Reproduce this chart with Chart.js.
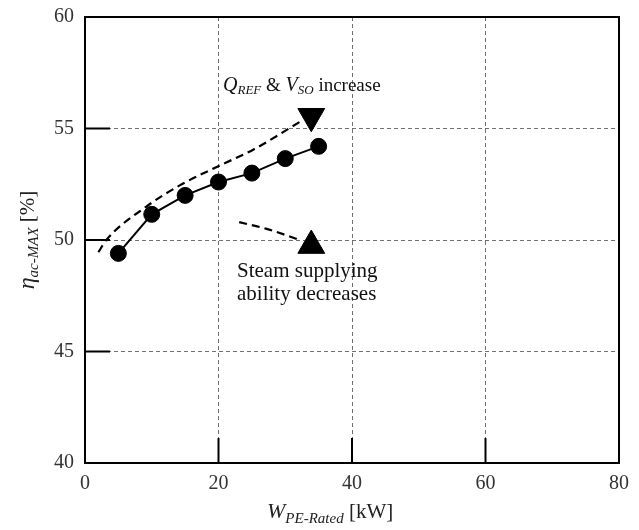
<!DOCTYPE html>
<html lang="en">
  <head>
    <meta charset="UTF-8" />
    <title>eta ac-MAX vs W PE-Rated</title>
    <script src="https://cdn.jsdelivr.net/npm/chart.js"></script>
    <style>
      html, body { margin: 0; padding: 0; background: #fff; }
      #wrap { width: 639px; height: 530px; position: relative; }
    </style>
  </head>
  <body>
    <div id="wrap"><canvas id="graph"></canvas></div>

    <script>
      // values
      const ratedPower = [5, 10, 15, 20, 25, 30, 35];
      const etaMax = [49.4, 51.15, 52.0, 52.6, 53.0, 53.65, 54.2];

      const increaseX = [2.0, 3.2, 9.2, 14.2, 19.9, 25.2, 32.2];
      const increaseY = [49.45, 50.0, 51.5, 52.45, 53.3, 54.05, 55.3];
      const decreaseX = [23.1, 27.2, 32.2];
      const decreaseY = [50.8, 50.5, 50.0];

      const arrowUp = [{ x: 33.9, y: 55.55 }];
      const arrowDown = [{ x: 33.9, y: 49.75 }];

      const xTicks = [0, 20, 40, 60, 80];
      const yTicks = [40, 45, 50, 55, 60];

      const pairs = (xs, ys) => xs.map((x, i) => ({ x, y: ys[i] }));
      const SERIF = "'Liberation Serif', 'Times New Roman', serif";

      // draw a run of text pieces (for subscripts)
      function drawRich(ctx, parts, x, y) {
        let cx = x;
        parts.forEach((p) => {
          ctx.font = p.font;
          ctx.fillText(p.text, cx, y + (p.dy || 0));
          cx += ctx.measureText(p.text).width;
        });
        return cx - x;
      }
      function richWidth(ctx, parts) {
        let w = 0;
        parts.forEach((p) => {
          ctx.font = p.font;
          w += ctx.measureText(p.text).width;
        });
        return w;
      }

      const framePlugin = {
        id: "frame",
        afterDatasetsDraw(chart) {
          const { ctx, chartArea: a, scales } = chart;
          ctx.save();
          // inner tick marks
          ctx.strokeStyle = "#000";
          ctx.lineWidth = 2;
          ctx.setLineDash([]);
          ctx.beginPath();
          [45, 50, 55].forEach((v) => {
            const py = scales.y.getPixelForValue(v);
            ctx.moveTo(a.left, py);
            ctx.lineTo(a.left + 25, py);
          });
          [20, 40, 60].forEach((v) => {
            const px = scales.x.getPixelForValue(v);
            ctx.moveTo(px, a.bottom);
            ctx.lineTo(px, a.bottom - 25);
          });
          ctx.stroke();
          // box
          ctx.strokeRect(a.left, a.top, a.right - a.left, a.bottom - a.top);

          ctx.fillStyle = "#111";
          ctx.textBaseline = "alphabetic";
          // annotation: Q_REF & V_SO increase
          drawRich(ctx, [
            { text: "Q", font: "italic 20px " + SERIF },
            { text: "REF", font: "italic 13px " + SERIF, dy: 3 },
            { text: " & ", font: "19px " + SERIF },
            { text: "V", font: "italic 20px " + SERIF },
            { text: "SO", font: "italic 13px " + SERIF, dy: 3 },
            { text: " increase", font: "19px " + SERIF },
          ], 223, 91);
          ctx.font = "21px " + SERIF;
          ctx.fillText("Steam supplying", 237, 277);
          ctx.fillText("ability decreases", 237, 300);

          // x axis title
          ctx.fillStyle = "#222";
          drawRich(ctx, [
            { text: "W", font: "italic 22px " + SERIF },
            { text: "PE-Rated", font: "italic 15px " + SERIF, dy: 5 },
            { text: " [kW]", font: "21px " + SERIF },
          ], 267, 518);

          // y axis title
          const yParts = [
            { text: "η", font: "italic 24px " + SERIF },
            { text: "ac-MAX", font: "italic 15px " + SERIF, dy: 4 },
            { text: " [%]", font: "21px " + SERIF },
          ];
          const w = richWidth(ctx, yParts);
          ctx.translate(34, (a.top + a.bottom) / 2);
          ctx.rotate(-Math.PI / 2);
          drawRich(ctx, yParts, -w / 2, 0);
          ctx.restore();
        },
      };

      const gridColor = (edge) => (c) =>
        edge.includes(c.tick.value) ? "rgba(0,0,0,0)" : "#707070";

      new Chart(document.getElementById("graph"), {
        type: "scatter",
        data: {
          datasets: [
            {
              label: "eta",
              data: pairs(ratedPower, etaMax),
              showLine: true,
              borderColor: "#000",
              backgroundColor: "#000",
              borderWidth: 2,
              pointRadius: 8,
              pointBorderWidth: 1,
            },
            {
              label: "increase",
              data: pairs(increaseX, increaseY),
              showLine: true,
              borderColor: "#000",
              borderWidth: 2.2,
              borderDash: [8, 5],
              pointRadius: 0,
              cubicInterpolationMode: "monotone",
            },
            {
              label: "decrease",
              data: pairs(decreaseX, decreaseY),
              showLine: true,
              borderColor: "#000",
              borderWidth: 2.2,
              borderDash: [8, 5],
              pointRadius: 0,
              cubicInterpolationMode: "monotone",
            },
            {
              label: "arrowUp",
              data: arrowUp,
              pointStyle: "triangle",
              rotation: 180,
              pointRadius: 15.5,
              backgroundColor: "#000",
              borderColor: "#000",
            },
            {
              label: "arrowDown",
              data: arrowDown,
              pointStyle: "triangle",
              pointRadius: 15.5,
              backgroundColor: "#000",
              borderColor: "#000",
            },
          ],
        },
        options: {
          responsive: true,
          maintainAspectRatio: false,
          animation: false,
          layout: { padding: { top: 17, right: 20, left: 0, bottom: 0 } },
          plugins: {
            legend: { display: false },
            tooltip: { enabled: false },
          },
          scales: {
            x: {
              type: "linear",
              min: 0,
              max: 80,
              afterBuildTicks: (s) => { s.ticks = xTicks.map((v) => ({ value: v })); },
              afterFit: (s) => {
                s.height = 67;
                s.paddingLeft = 0;
                s.paddingRight = 0;
              },
              grid: {
                color: gridColor([0, 80]),
                lineWidth: 1,
                drawTicks: false,
              },
              border: { color: "#000", width: 2, dash: [4, 3] },
              ticks: {
                padding: 9,
                color: "#333",
                font: { family: SERIF, size: 20 },
              },
            },
            y: {
              min: 40,
              max: 60,
              afterBuildTicks: (s) => { s.ticks = yTicks.map((v) => ({ value: v })); },
              afterFit: (s) => {
                s.width = 85;
                s.paddingTop = 0;
                s.paddingBottom = 0;
              },
              grid: {
                color: gridColor([40, 60]),
                lineWidth: 1,
                drawTicks: false,
              },
              border: { color: "#000", width: 2, dash: [4, 3] },
              ticks: {
                padding: 11,
                color: "#333",
                font: { family: SERIF, size: 20 },
              },
            },
          },
        },
        plugins: [framePlugin],
      });
    </script>
  </body>
</html>
